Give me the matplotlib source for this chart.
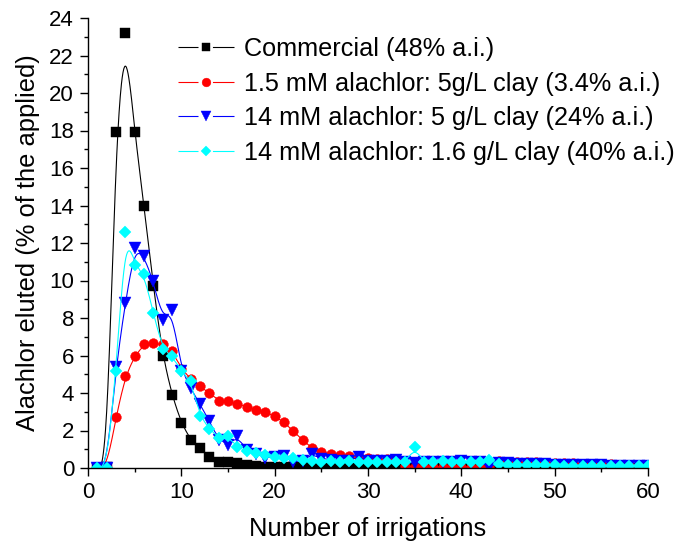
import numpy as np
import matplotlib.pyplot as plt
from matplotlib.lines import Line2D

plt.rcParams["font.family"] = ["Liberation Sans", "DejaVu Sans"]

# ---- data (irrigation number 1..60) ----
irrigations = np.arange(1, 61)

commercial = [0, 0.05, 17.9, 23.2, 17.9, 14.0, 9.7, 6.0, 3.9, 2.4,
              1.5, 1.05, 0.6, 0.34, 0.34, 0.25, 0.17, 0.1, 0.05, 0.05,
              0.04, 0.04, 0.03, 0.03, 0.03, 0.02, 0.02, 0.02, 0.02, 0.02,
              0.01, 0.01, 0.01, 0.01, 0.01, 0.01, 0.01, 0.01, 0.01, 0.01,
              0.01, 0.01, 0.01, 0.01, 0.01, 0.01, 0.01, 0.01, 0.01, 0.01,
              0.01, 0.01, 0.01, 0.01, 0.01, 0.01, 0.01, 0.01, 0.01, 0.01]

clay_15mM_5g = [0, 0, 2.7, 4.9, 5.95, 6.6, 6.65, 6.6, 6.25, 5.3,
                4.75, 4.35, 4.0, 3.6, 3.55, 3.42, 3.28, 3.1, 3.0, 2.75,
                2.45, 1.95, 1.5, 1.05, 0.87, 0.75, 0.68, 0.62, 0.57, 0.52,
                0.5, 0.47, 0.45, 0.1, 0.05, 0.05, 0.05, 0.05, 0.05, 0.05,
                0.05, 0.05, 0.05, 0.35, 0.33, 0.32, 0.3, 0.3, 0.28, 0.27,
                0.26, 0.25, 0.24, 0.23, 0.22, 0.2, 0.18, 0.16, 0.15, 0.15]

clay_14mM_5g = [0, 0, 5.4, 8.8, 11.75, 11.3, 9.95, 7.9, 8.45, 5.2,
                4.25, 3.4, 2.5, 1.5, 1.25, 1.7, 0.95, 0.75, 0.55, 0.6,
                0.65, 0.3, 0.4, 0.75, 0.5, 0.45, 0.4, 0.4, 0.6, 0.4,
                0.35, 0.35, 0.43, 0.3, 0.25, 0.3, 0.3, 0.3, 0.3, 0.4,
                0.3, 0.3, 0.05, 0.25, 0.25, 0.22, 0.2, 0.2, 0.2, 0.18,
                0.18, 0.17, 0.15, 0.15, 0.14, 0.13, 0.12, 0.1, 0.1, 0.1]

clay_14mM_16g = [0, 0, 5.15, 12.6, 10.85, 10.35, 8.25, 6.35, 5.95, 5.2,
                 4.65, 2.75, 2.1, 1.6, 1.7, 1.1, 0.9, 0.8, 0.7, 0.6,
                 0.55, 0.55, 0.45, 0.35, 0.32, 0.35, 0.3, 0.35, 0.3, 0.3,
                 0.3, 0.3, 0.3, 0.3, 1.1, 0.3, 0.3, 0.35, 0.3, 0.3,
                 0.3, 0.3, 0.45, 0.2, 0.15, 0.15, 0.15, 0.15, 0.15, 0.15,
                 0.12, 0.12, 0.12, 0.12, 0.1, 0.1, 0.1, 0.1, 0.1, 0.1]

labels = ["Commercial (48% a.i.)",
          "1.5 mM alachlor: 5g/L clay (3.4% a.i.)",
          "14 mM alachlor: 5 g/L clay (24% a.i.)",
          "14 mM alachlor: 1.6 g/L clay (40% a.i.)"]
colors = ["#000000", "#ff0000", "#0000ff", "#00ffff"]
markers = ["s", "o", "v", "D"]
msizes = [6.5, 7.0, 8.2, 5.8]

LW = 0.8


def bspline(x, y, n=24):
    """Uniform cubic B-spline using the data points as control points
    (end points repeated so the curve starts/ends on them)."""
    px = np.r_[[x[0]] * 2, x, [x[-1]] * 2].astype(float)
    py = np.r_[[y[0]] * 2, y, [y[-1]] * 2].astype(float)
    t = np.linspace(0, 1, n, endpoint=False)
    b0 = (1 - t) ** 3 / 6
    b1 = (3 * t ** 3 - 6 * t ** 2 + 4) / 6
    b2 = (-3 * t ** 3 + 3 * t ** 2 + 3 * t + 1) / 6
    b3 = t ** 3 / 6
    xs, ys = [], []
    for i in range(len(px) - 3):
        xs.append(b0 * px[i] + b1 * px[i + 1] + b2 * px[i + 2] + b3 * px[i + 3])
        ys.append(b0 * py[i] + b1 * py[i + 1] + b2 * py[i + 2] + b3 * py[i + 3])
    xs.append([x[-1]])
    ys.append([y[-1]])
    return np.concatenate(xs), np.concatenate(ys)


fig = plt.figure(figsize=(6.82, 5.54), dpi=100)
ax = fig.add_axes([88 / 682, 1 - 468 / 554, 560 / 682, 450 / 554])

series = [commercial, clay_15mM_5g, clay_14mM_5g, clay_14mM_16g]
handles = []
for vals, c, m, ms, lab in zip(series, colors, markers, msizes, labels):
    sx, sy = bspline(irrigations, np.array(vals))
    ax.plot(sx, sy, color=c, lw=LW)
    ax.plot(irrigations, vals, ls="none", marker=m, ms=ms, color=c, mec=c, mew=0.3)
    # legend proxy: dash pattern leaves a gap in the line around the marker
    # (dash lengths are scaled by linewidth, so divide it out)
    dash = (14.4 / LW, 10.4 / LW, 200, 1)
    handles.append(Line2D([], [], color=c, lw=LW, ls=(0, dash),
                          marker=m, ms=ms * 0.9, mfc=c, mec=c, mew=0.3, label=lab))

ax.set_xlim(0, 60)
ax.set_ylim(0, 24)
ax.set_xticks(np.arange(0, 61, 10))
ax.set_xticks(np.arange(0, 61, 5), minor=True)
ax.set_yticks(np.arange(0, 25, 2))
ax.set_yticks(np.arange(0, 25, 1), minor=True)
ax.spines["top"].set_visible(False)
ax.spines["right"].set_visible(False)
for s in ("left", "bottom"):
    ax.spines[s].set_linewidth(1.0)
ax.tick_params(which="major", direction="out", length=6, width=1.0,
               labelsize=16, pad=4)
ax.tick_params(which="minor", direction="out", length=3, width=1.0)

ax.set_xlabel("Number of irrigations", fontsize=18.4, labelpad=10)
ax.set_ylabel("Alachlor eluted (% of the applied)", fontsize=18.4, labelpad=7)

ax.legend(handles=handles, loc="upper left", bbox_to_anchor=(178 / 682, 1 - 37 / 554),
          bbox_transform=fig.transFigure, frameon=False, fontsize=18.2,
          handlelength=2.2, handletextpad=0.4, labelspacing=0.42, borderpad=0,
          borderaxespad=0)

fig.savefig("out.png", dpi=100)
